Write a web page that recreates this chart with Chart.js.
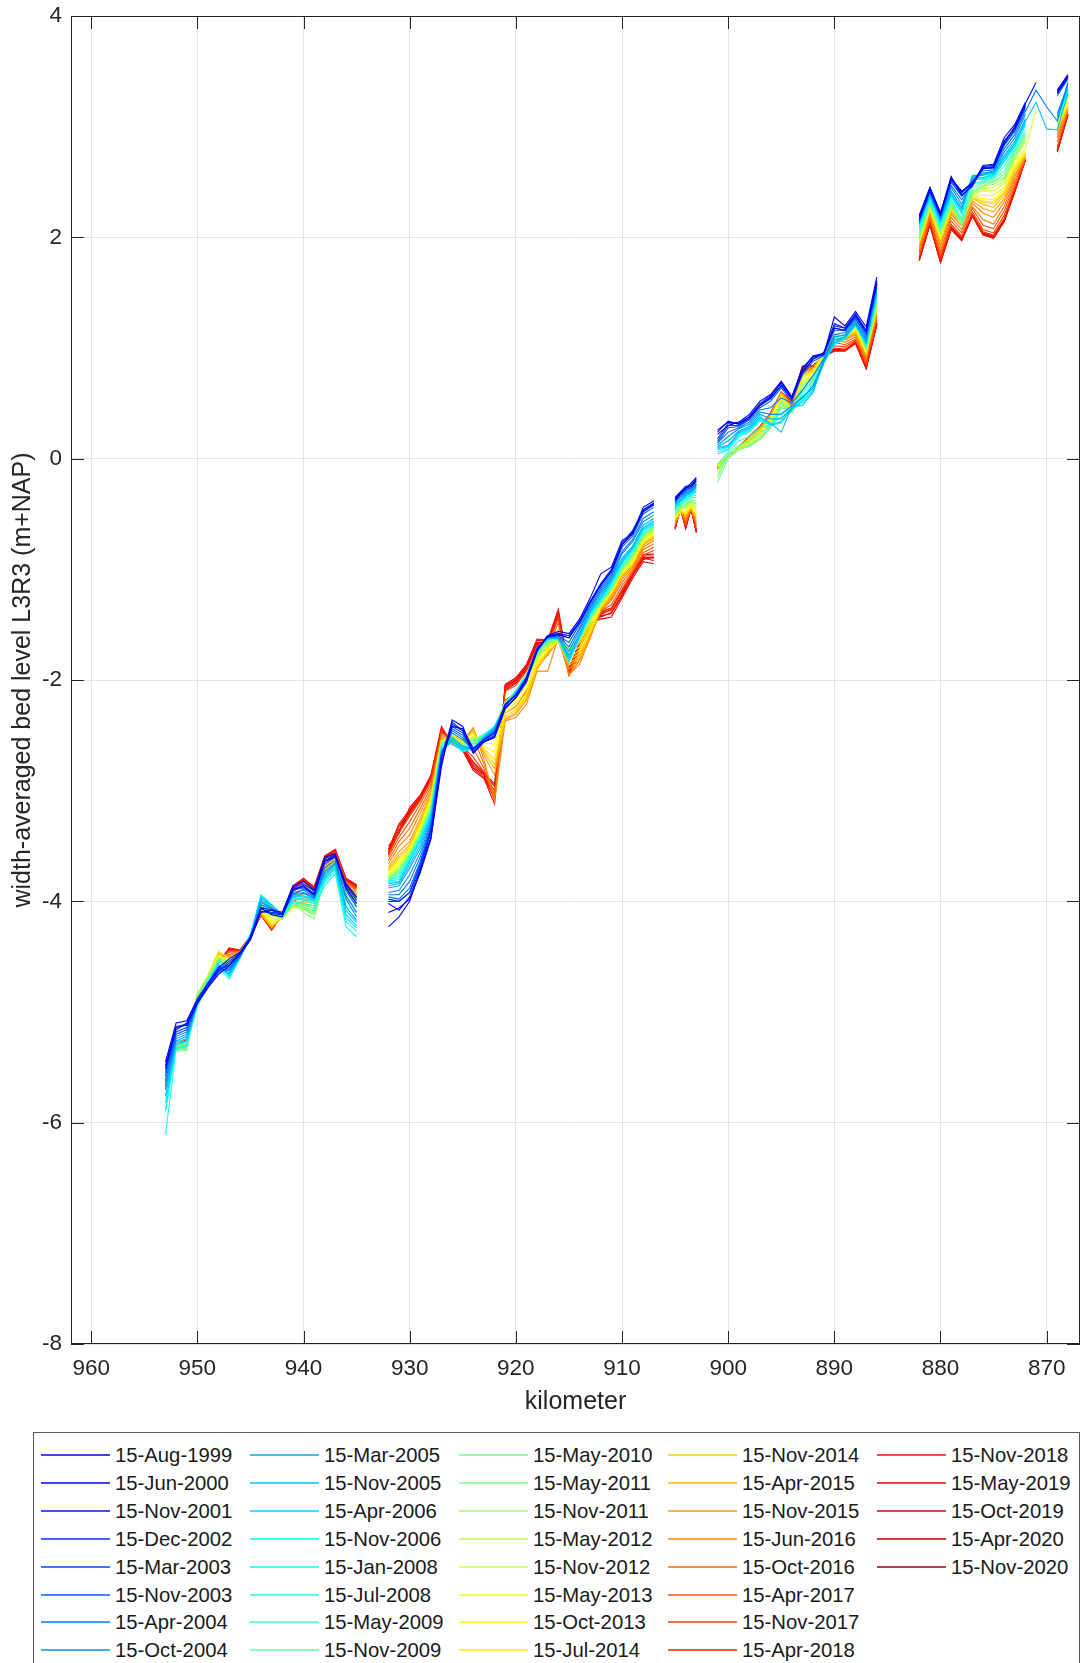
<!DOCTYPE html>
<html><head><meta charset="utf-8">
<script src="https://cdn.jsdelivr.net/npm/chart.js@4.4.1/dist/chart.umd.min.js"></script>
<style>
html,body{margin:0;padding:0;background:#fff;}
#wrap{position:relative;width:1086px;height:1663px;overflow:hidden;font-family:"Liberation Sans",Arial,Helvetica,sans-serif;}
#c{position:absolute;left:0;top:0;}
#legend{position:absolute;left:33px;top:1432px;width:1047px;height:260px;border:1px solid #5a5a5a;box-sizing:border-box;background:#fff;}
.ll{position:absolute;height:2px;width:69px;opacity:0.75;}
.lt{position:absolute;font-size:20.3px;color:#1a1a1a;line-height:24px;white-space:nowrap;}
</style></head><body><div id="wrap"><canvas id="c" width="1086" height="1420"></canvas><div id="legend"></div></div>
<script>
const kilometers = [953,952,951,950,949,948,947,946,945,944,943,942,941,940,939,938,937,936,935,
 933.5,
 932,931,930,929,928,927,926,925,924,923,922,921,920,919,918,917,916,915,914,913,912,911,910,909,908,907,
 906,
 905,904.5,904,903.5,903,
 902,
 901,900,899,898,897,896,895,894,893,892,891,890,889,888,887,886,
 884,
 882,881,880,879,878,877,876,875,874,873,872,871,870,869,868];

const dateLabels = ["15-Aug-1999","15-Jun-2000","15-Nov-2001","15-Dec-2002","15-Mar-2003","15-Nov-2003","15-Apr-2004","15-Oct-2004",
 "15-Mar-2005","15-Nov-2005","15-Apr-2006","15-Nov-2006","15-Jan-2008","15-Jul-2008","15-May-2009","15-Nov-2009",
 "15-May-2010","15-May-2011","15-Nov-2011","15-May-2012","15-Nov-2012","15-May-2013","15-Oct-2013","15-Jul-2014",
 "15-Nov-2014","15-Apr-2015","15-Nov-2015","15-Jun-2016","15-Oct-2016","15-Apr-2017","15-Nov-2017","15-Apr-2018",
 "15-Nov-2018","15-May-2019","15-Oct-2019","15-Apr-2020","15-Nov-2020"];

const xTickValues = [960,950,940,930,920,910,900,890,880,870];
const yTickValues = [-8,-6,-4,-2,0,2,4];

const s00 = [-5.50,-5.14,-5.12,-4.92,-4.78,-4.66,-4.58,-4.48,-4.35,-4.10,-4.08,-4.10,-3.86,-3.82,-3.90,-3.60,-3.57,-3.88,-4.02, null,
 -4.23,-4.14,-4.00,-3.72,-3.42,-2.78,-2.36,-2.42,-2.66,-2.56,-2.52,-2.26,-2.16,-2.00,-1.74,-1.60,-1.56,-1.58,-1.45,-1.26,-1.04,-0.98,-0.74,-0.68,-0.44,-0.38, null,
 -0.38,-0.32,-0.27,-0.22,-0.17, null,
 0.22,0.30,0.33,0.40,0.52,0.58,0.70,0.56,0.82,0.92,0.94,1.28,1.20,1.33,1.19,1.64, null,
 2.20,2.45,2.22,2.55,2.38,2.47,2.65,2.66,2.90,3.02,3.22,null,null,3.33,3.47];
const s01 = [-5.45,-5.10,-5.08,-4.88,-4.74,-4.60,-4.52,-4.46,-4.32,-4.06,-4.12,-4.14,-3.90,-3.86,-3.94,-3.63,-3.59,-3.84,-3.96, null,
 -4.10,-4.06,-3.98,-3.74,-3.44,-2.74,-2.42,-2.44,-2.62,-2.54,-2.48,-2.22,-2.14,-1.98,-1.72,-1.61,-1.59,-1.62,-1.48,-1.30,-1.14,-1.02,-0.78,-0.66,-0.48,-0.41, null,
 -0.36,-0.31,-0.27,-0.25,-0.20, null,
 0.24,0.34,0.31,0.37,0.48,0.55,0.66,0.54,0.78,0.90,0.96,1.18,1.16,1.30,1.14,1.58, null,
 2.16,2.42,2.20,2.52,2.41,2.50,2.62,2.63,2.85,3.00,3.21,3.40,null,3.30,3.45];
const s02 = [-5.52,-5.16,-5.10,-4.90,-4.76,-4.63,-4.56,-4.47,-4.34,-4.09,-4.11,-4.12,-3.89,-3.86,-3.93,-3.64,-3.60,-3.86,-3.99, null,
 -4.02,-4.08,-3.96,-3.70,-3.38,-2.70,-2.40,-2.46,-2.66,-2.56,-2.51,-2.25,-2.16,-2.02,-1.74,-1.60,-1.58,-1.60,-1.47,-1.29,-1.13,-1.00,-0.78,-0.68,-0.47,-0.40, null,
 -0.35,-0.30,-0.25,-0.24,-0.19, null,
 0.26,0.33,0.32,0.38,0.49,0.56,0.69,0.56,0.80,0.93,0.95,1.22,1.18,1.31,1.16,1.61, null,
 2.18,2.44,2.21,2.53,2.42,2.48,2.63,2.64,2.87,2.98,3.19,null,null,3.32,3.46];
const s03 = [-5.48,-5.13,-5.11,-4.91,-4.74,-4.62,-4.54,-4.47,-4.33,-4.07,-4.10,-4.11,-3.88,-3.84,-3.91,-3.61,-3.58,-3.85,-3.97, null,
 -3.98,-4.00,-3.92,-3.68,-3.36,-2.68,-2.38,-2.46,-2.66,-2.55,-2.50,-2.23,-2.14,-2.00,-1.72,-1.60,-1.58,-1.60,-1.48,-1.29,-1.13,-1.01,-0.76,-0.65,-0.46,-0.40, null,
 -0.36,-0.30,-0.26,-0.24,-0.18, null,
 0.18,0.32,0.32,0.38,0.50,0.57,0.68,0.55,0.81,0.92,0.95,1.20,1.18,1.29,1.15,1.60, null,
 2.19,2.45,2.22,2.53,2.40,2.49,2.64,2.65,2.87,2.99,3.20,null,null,3.31,3.46];
const s04 = [-5.55,-5.18,-5.14,-4.90,-4.76,-4.62,-4.58,-4.48,-4.33,-4.06,-4.08,-4.12,-3.89,-3.87,-3.94,-3.64,-3.59,-3.88,-4.02, null,
 -4.00,-4.00,-3.92,-3.66,-3.34,-2.70,-2.42,-2.48,-2.64,-2.54,-2.48,-2.22,-2.14,-1.98,-1.72,-1.60,-1.59,-1.62,-1.48,-1.30,-1.15,-1.02,-0.78,-0.67,-0.48,-0.42, null,
 -0.37,-0.31,-0.28,-0.26,-0.20, null,
 0.16,0.30,0.30,0.36,0.48,0.54,0.66,0.54,0.78,0.90,0.94,1.18,1.16,1.28,1.14,1.58, null,
 2.16,2.42,2.20,2.50,2.38,2.46,2.62,2.63,2.84,2.97,3.18,null,null,3.30,3.44];
const s05 = [-5.58,-5.20,-5.16,-4.92,-4.78,-4.64,-4.60,-4.50,-4.34,-4.05,-4.08,-4.12,-3.90,-3.88,-3.95,-3.66,-3.60,-3.90,-4.05, null,
 -3.96,-3.98,-3.88,-3.64,-3.32,-2.68,-2.44,-2.50,-2.66,-2.54,-2.47,-2.22,-2.13,-1.98,-1.72,-1.61,-1.60,-1.66,-1.50,-1.32,-1.17,-1.04,-0.80,-0.70,-0.50,-0.44, null,
 -0.38,-0.33,-0.29,-0.27,-0.22, null,
 0.14,0.28,0.29,0.35,0.46,0.52,0.64,0.52,0.76,0.88,0.93,1.16,1.16,1.27,1.12,1.57, null,
 2.15,2.42,2.19,2.50,2.37,2.48,2.62,2.63,2.83,2.96,3.16,null,null,3.28,3.43];
const s06 = [-5.62,-5.22,-5.18,-4.92,-4.76,-4.62,-4.62,-4.50,-4.33,-4.03,-4.07,-4.12,-3.92,-3.90,-3.96,-3.70,-3.63,-3.95,-4.10, null,
 -3.94,-3.94,-3.82,-3.60,-3.30,-2.66,-2.46,-2.52,-2.64,-2.53,-2.46,-2.23,-2.13,-1.98,-1.72,-1.61,-1.60,-1.70,-1.53,-1.34,-1.19,-1.06,-0.84,-0.73,-0.54,-0.48, null,
 -0.39,-0.34,-0.30,-0.28,-0.23, null,
 0.14,0.24,0.28,0.33,0.44,0.46,0.55,0.50,0.62,0.75,0.90,1.12,1.14,1.26,1.10,1.55, null,
 2.15,2.40,2.18,2.47,2.34,2.50,2.60,2.61,2.80,2.93,3.14,3.33,3.18,3.05,3.40];
const s07 = [-5.66,-5.24,-5.20,-4.92,-4.75,-4.60,-4.63,-4.50,-4.32,-4.01,-4.06,-4.12,-3.93,-3.92,-3.97,-3.73,-3.65,-3.98,-4.14, null,
 -3.92,-3.90,-3.76,-3.56,-3.28,-2.66,-2.48,-2.54,-2.63,-2.53,-2.45,-2.23,-2.13,-1.98,-1.72,-1.62,-1.61,-1.74,-1.55,-1.35,-1.21,-1.08,-0.86,-0.75,-0.57,-0.51, null,
 -0.40,-0.35,-0.31,-0.29,-0.24, null,
 0.12,0.20,0.27,0.31,0.42,0.40,0.40,0.48,0.55,0.66,0.88,1.10,1.12,1.24,1.08,1.54, null,
 2.14,2.40,2.17,2.45,2.30,2.52,2.58,2.60,2.77,2.90,3.11,null,null,3.12,3.38];
const s08 = [-5.70,-5.26,-5.22,-4.92,-4.75,-4.59,-4.65,-4.50,-4.32,-3.99,-4.06,-4.12,-3.94,-3.93,-3.97,-3.75,-3.66,-4.05,-4.17, null,
 -3.88,-3.86,-3.70,-3.52,-3.26,-2.65,-2.52,-2.60,-2.62,-2.52,-2.44,-2.24,-2.12,-1.98,-1.72,-1.62,-1.62,-1.78,-1.58,-1.37,-1.23,-1.09,-0.90,-0.79,-0.60,-0.54, null,
 -0.41,-0.37,-0.32,-0.30,-0.25, null,
 0.11,0.16,0.25,0.29,0.40,0.36,0.36,0.46,0.56,0.64,0.87,1.07,1.10,1.22,1.06,1.52, null,
 2.13,2.39,2.16,2.42,2.27,2.54,2.57,2.59,2.74,2.87,3.07,null,null,3.10,3.36];
const s09 = [-5.76,-5.27,-5.24,-4.93,-4.74,-4.58,-4.66,-4.50,-4.32,-3.97,-4.04,-4.12,-3.95,-3.95,-3.98,-3.77,-3.67,-4.08,-4.19, null,
 -3.86,-3.84,-3.67,-3.49,-3.24,-2.64,-2.54,-2.62,-2.62,-2.52,-2.43,-2.24,-2.12,-1.98,-1.72,-1.62,-1.62,-1.80,-1.60,-1.38,-1.25,-1.10,-0.92,-0.80,-0.62,-0.56, null,
 -0.42,-0.38,-0.33,-0.30,-0.26, null,
 0.10,0.12,0.24,0.28,0.38,0.32,0.24,0.47,0.48,0.60,0.90,1.05,1.10,1.22,1.05,1.50, null,
 2.12,2.38,2.15,2.40,2.25,2.56,2.56,2.58,2.72,2.85,3.05,3.22,2.98,2.97,3.30];
const s10 = [-5.82,-5.29,-5.26,-4.92,-4.73,-4.57,-4.67,-4.50,-4.31,-3.96,-4.04,-4.12,-3.96,-3.96,-3.99,-3.79,-3.69,-4.12,-4.22, null,
 -3.84,-3.83,-3.64,-3.46,-3.22,-2.63,-2.56,-2.63,-2.62,-2.51,-2.43,-2.24,-2.11,-1.97,-1.72,-1.62,-1.62,-1.82,-1.61,-1.39,-1.26,-1.11,-0.93,-0.81,-0.63,-0.57, null,
 -0.43,-0.38,-0.34,-0.31,-0.27, null,
 0.09,0.11,0.23,0.27,0.37,0.31,0.33,0.44,0.52,0.62,0.86,1.04,1.09,1.21,1.04,1.49, null,
 2.11,2.37,2.14,2.39,2.24,2.55,2.54,2.57,2.71,2.84,3.04,null,null,3.09,3.34];
const s11 = [-5.88,-5.30,-5.27,-4.93,-4.74,-4.58,-4.68,-4.51,-4.31,-3.95,-4.03,-4.12,-3.97,-3.98,-4.00,-3.80,-3.70,-4.15,-4.24, null,
 -3.83,-3.82,-3.63,-3.45,-3.21,-2.62,-2.56,-2.64,-2.62,-2.51,-2.42,-2.24,-2.11,-1.97,-1.72,-1.62,-1.63,-1.83,-1.62,-1.40,-1.27,-1.12,-0.94,-0.82,-0.64,-0.58, null,
 -0.44,-0.39,-0.35,-0.32,-0.28, null,
 0.08,0.10,0.22,0.26,0.36,0.30,0.34,0.45,0.52,0.62,0.87,1.04,1.09,1.21,1.04,1.49, null,
 2.10,2.36,2.13,2.38,2.23,2.54,2.53,2.56,2.70,2.83,3.03,null,null,3.08,3.33];
const s12 = [-6.11,-5.33,-5.30,-4.95,-4.76,-4.60,-4.70,-4.52,-4.32,-3.94,-4.03,-4.14,-4.00,-4.02,-4.04,-3.86,-3.75,-4.23,-4.32, null,
 -3.82,-3.80,-3.62,-3.44,-3.20,-2.62,-2.57,-2.65,-2.62,-2.50,-2.42,-2.24,-2.10,-1.97,-1.72,-1.63,-1.63,-1.84,-1.62,-1.41,-1.28,-1.13,-0.95,-0.83,-0.65,-0.59, null,
 -0.45,-0.40,-0.36,-0.33,-0.29, null,
 0.06,0.09,0.21,0.25,0.35,0.30,0.32,0.46,0.50,0.60,0.86,1.03,1.08,1.20,1.03,1.48, null,
 2.09,2.35,2.12,2.37,2.22,2.53,2.52,2.55,2.69,2.82,3.02,null,null,3.07,3.32];
const s13 = [-5.90,-5.31,-5.29,-4.92,-4.74,-4.57,-4.67,-4.50,-4.31,-3.95,-4.04,-4.13,-3.98,-3.99,-4.02,-3.83,-3.72,-4.18,-4.27, null,
 -3.81,-3.78,-3.61,-3.43,-3.19,-2.61,-2.56,-2.64,-2.61,-2.50,-2.42,-2.23,-2.10,-1.96,-1.73,-1.63,-1.63,-1.82,-1.62,-1.41,-1.28,-1.13,-0.95,-0.83,-0.65,-0.59, null,
 -0.45,-0.40,-0.36,-0.33,-0.30, null,
 0.04,0.08,0.20,0.24,0.34,0.30,0.38,0.44,0.54,0.64,0.88,1.04,1.09,1.21,1.03,1.48, null,
 2.08,2.34,2.11,2.36,2.21,2.52,2.53,2.55,2.68,2.81,3.01,null,null,3.07,3.33];
const s14 = [-5.75,-5.32,-5.31,-4.89,-4.72,-4.55,-4.62,-4.49,-4.30,-3.96,-4.06,-4.14,-4.00,-4.03,-4.06,-3.81,-3.70,-4.04,-4.10, null,
 -3.82,-3.76,-3.60,-3.42,-3.18,-2.60,-2.54,-2.62,-2.58,-2.50,-2.43,-2.22,-2.11,-1.96,-1.75,-1.64,-1.63,-1.76,-1.62,-1.42,-1.28,-1.15,-0.97,-0.85,-0.67,-0.60, null,
 -0.46,-0.41,-0.38,-0.34,-0.33, null,
 -0.05,0.06,0.16,0.20,0.28,0.30,0.42,0.44,0.58,0.68,0.89,1.07,1.10,1.23,1.02,1.45, null,
 2.06,2.33,2.09,2.34,2.17,2.48,2.51,2.54,2.64,2.79,2.97,null,null,3.06,3.32];
const s15 = [-5.70,-5.33,-5.32,-4.87,-4.71,-4.54,-4.60,-4.48,-4.30,-3.97,-4.08,-4.15,-4.01,-4.05,-4.09,-3.80,-3.70,-3.99,-4.05, null,
 -3.81,-3.74,-3.59,-3.41,-3.17,-2.59,-2.53,-2.61,-2.57,-2.50,-2.43,-2.21,-2.10,-1.95,-1.76,-1.65,-1.63,-1.74,-1.62,-1.43,-1.29,-1.16,-0.98,-0.86,-0.68,-0.61, null,
 -0.47,-0.42,-0.39,-0.35,-0.35, null,
 -0.10,0.04,0.12,0.16,0.24,0.29,0.46,0.43,0.60,0.70,0.90,1.08,1.11,1.24,1.01,1.43, null,
 2.04,2.32,2.08,2.33,2.15,2.45,2.50,2.53,2.60,2.78,2.94,null,null,3.06,3.31];
const s16 = [-5.66,-5.34,-5.34,-4.86,-4.70,-4.53,-4.59,-4.48,-4.30,-3.98,-4.08,-4.15,-4.02,-4.07,-4.11,-3.80,-3.70,-3.97,-4.02, null,
 -3.80,-3.73,-3.58,-3.40,-3.16,-2.58,-2.52,-2.60,-2.56,-2.49,-2.42,-2.20,-2.10,-1.95,-1.77,-1.65,-1.63,-1.72,-1.62,-1.44,-1.30,-1.17,-0.99,-0.87,-0.69,-0.62, null,
 -0.49,-0.43,-0.41,-0.37,-0.38, null,
 -0.21,0.00,0.08,0.12,0.19,0.28,0.48,0.42,0.62,0.71,0.90,1.09,1.12,1.25,1.00,1.41, null,
 2.02,2.31,2.06,2.31,2.13,2.42,2.49,2.51,2.57,2.76,2.92,null,null,3.05,3.30];
const s17 = [-5.62,-5.35,-5.35,-4.85,-4.69,-4.52,-4.58,-4.48,-4.30,-4.00,-4.10,-4.15,-4.03,-4.10,-4.16,-3.80,-3.70,-3.94,-3.99, null,
 -3.79,-3.72,-3.57,-3.39,-3.15,-2.57,-2.52,-2.60,-2.54,-2.49,-2.43,-2.20,-2.10,-1.95,-1.78,-1.66,-1.63,-1.70,-1.62,-1.45,-1.30,-1.18,-1.00,-0.88,-0.70,-0.62, null,
 -0.50,-0.44,-0.42,-0.38,-0.40, null,
 -0.17,0.03,0.08,0.11,0.17,0.28,0.50,0.42,0.66,0.72,0.90,1.10,1.12,1.26,0.99,1.40, null,
 2.00,2.30,2.04,2.30,2.10,2.40,2.47,2.50,2.54,2.74,2.90,null,null,3.04,3.30];
const s18 = [-5.60,-5.33,-5.33,-4.84,-4.70,-4.51,-4.57,-4.48,-4.30,-4.01,-4.11,-4.16,-4.02,-4.08,-4.12,-3.79,-3.70,-3.95,-4.00, null,
 -3.79,-3.71,-3.57,-3.39,-3.14,-2.57,-2.52,-2.59,-2.54,-2.50,-2.44,-2.20,-2.11,-1.96,-1.79,-1.67,-1.64,-1.70,-1.63,-1.45,-1.31,-1.18,-1.01,-0.89,-0.71,-0.63, null,
 -0.50,-0.45,-0.43,-0.39,-0.41, null,
 -0.15,0.03,0.09,0.12,0.18,0.29,0.51,0.43,0.66,0.73,0.91,1.10,1.12,1.25,0.99,1.40, null,
 1.99,2.29,2.04,2.29,2.11,2.39,2.46,2.48,2.53,2.73,2.88,null,null,3.04,3.29];
const s19 = [-5.58,-5.32,-5.32,-4.84,-4.69,-4.50,-4.56,-4.47,-4.31,-4.03,-4.13,-4.16,-4.03,-4.06,-4.10,-3.78,-3.68,-3.93,-3.99, null,
 -3.78,-3.70,-3.56,-3.38,-3.13,-2.56,-2.52,-2.59,-2.53,-2.52,-2.48,-2.21,-2.12,-1.98,-1.80,-1.68,-1.64,-1.72,-1.65,-1.47,-1.31,-1.19,-1.01,-0.90,-0.72,-0.64, null,
 -0.51,-0.45,-0.44,-0.40,-0.43, null,
 -0.12,0.02,0.09,0.13,0.19,0.30,0.52,0.43,0.68,0.74,0.92,1.10,1.11,1.23,0.98,1.39, null,
 1.98,2.28,2.03,2.28,2.12,2.38,2.44,2.45,2.51,2.71,2.86,null,null,3.03,3.28];
const s20 = [-5.60,-5.31,-5.31,-4.84,-4.68,-4.50,-4.55,-4.47,-4.31,-4.05,-4.15,-4.15,-4.04,-4.05,-4.08,-3.77,-3.67,-3.92,-3.98, null,
 -3.77,-3.68,-3.55,-3.36,-3.12,-2.56,-2.52,-2.58,-2.52,-2.54,-2.52,-2.22,-2.14,-2.00,-1.81,-1.69,-1.64,-1.74,-1.67,-1.49,-1.32,-1.19,-1.02,-0.91,-0.73,-0.65, null,
 -0.52,-0.46,-0.45,-0.41,-0.45, null,
 -0.10,0.02,0.09,0.14,0.21,0.32,0.53,0.43,0.70,0.75,0.93,1.11,1.11,1.22,0.98,1.38, null,
 1.97,2.28,2.02,2.27,2.13,2.38,2.42,2.42,2.49,2.70,2.80,3.15,null,3.02,3.27];
const s21 = [-5.60,-5.31,-5.30,-4.85,-4.68,-4.49,-4.54,-4.47,-4.31,-4.07,-4.17,-4.15,-4.04,-4.04,-4.06,-3.75,-3.65,-3.91,-3.97, null,
 -3.76,-3.66,-3.54,-3.34,-3.10,-2.55,-2.52,-2.57,-2.51,-2.57,-2.58,-2.25,-2.17,-2.04,-1.83,-1.71,-1.64,-1.77,-1.70,-1.51,-1.32,-1.20,-1.02,-0.92,-0.74,-0.66, null,
 -0.53,-0.46,-0.46,-0.42,-0.47, null,
 -0.08,0.02,0.09,0.15,0.22,0.34,0.55,0.44,0.71,0.77,0.93,1.11,1.11,1.20,0.97,1.37, null,
 1.96,2.27,2.01,2.26,2.14,2.37,2.38,2.38,2.45,2.67,2.78,null,null,3.01,3.25];
const s22 = [-5.61,-5.31,-5.29,-4.85,-4.68,-4.49,-4.53,-4.47,-4.32,-4.08,-4.19,-4.15,-4.05,-4.03,-4.04,-3.74,-3.64,-3.90,-3.96, null,
 -3.75,-3.64,-3.53,-3.32,-3.08,-2.55,-2.52,-2.56,-2.51,-2.60,-2.65,-2.28,-2.20,-2.08,-1.85,-1.73,-1.65,-1.80,-1.73,-1.54,-1.33,-1.21,-1.03,-0.93,-0.75,-0.68, null,
 -0.54,-0.47,-0.48,-0.43,-0.49, null,
 -0.07,0.02,0.10,0.16,0.24,0.36,0.56,0.44,0.73,0.78,0.94,1.12,1.11,1.18,0.96,1.36, null,
 1.96,2.26,2.00,2.26,2.15,2.37,2.35,2.34,2.43,2.65,2.77,null,null,3.00,3.22];
const s23 = [-5.58,-5.30,-5.28,-4.84,-4.67,-4.45,-4.52,-4.47,-4.32,-4.09,-4.21,-4.15,-4.06,-4.04,-4.02,-3.73,-3.63,-3.89,-3.95, null,
 -3.73,-3.62,-3.52,-3.31,-3.07,-2.55,-2.50,-2.54,-2.48,-2.62,-2.72,-2.30,-2.25,-2.12,-1.86,-1.73,-1.65,-1.82,-1.76,-1.56,-1.34,-1.21,-1.04,-0.94,-0.75,-0.69, null,
 -0.54,-0.47,-0.49,-0.43,-0.51, null,
 -0.06,0.02,0.10,0.17,0.25,0.37,0.57,0.45,0.74,0.79,0.95,1.13,1.10,1.16,0.96,1.36, null,
 1.96,2.25,1.99,2.25,2.15,2.36,2.33,2.32,2.41,2.63,2.76,null,null,2.99,3.19];
const s24 = [-5.59,-5.29,-5.27,-4.84,-4.67,-4.46,-4.51,-4.46,-4.32,-4.10,-4.22,-4.15,-4.05,-4.02,-4.00,-3.72,-3.62,-3.88,-3.94, null,
 -3.72,-3.60,-3.51,-3.30,-3.06,-2.55,-2.51,-2.55,-2.47,-2.64,-2.76,-2.33,-2.27,-2.14,-1.88,-1.74,-1.65,-1.85,-1.78,-1.58,-1.35,-1.22,-1.05,-0.95,-0.76,-0.70, null,
 -0.55,-0.48,-0.50,-0.44,-0.52, null,
 -0.05,0.02,0.10,0.18,0.26,0.38,0.58,0.45,0.75,0.80,0.95,1.12,1.10,1.15,0.95,1.35, null,
 1.95,2.25,1.98,2.25,2.15,2.36,2.32,2.30,2.40,2.62,2.75,null,null,2.98,3.18];
const s25 = [-5.60,-5.29,-5.27,-4.85,-4.68,-4.47,-4.51,-4.46,-4.33,-4.11,-4.23,-4.15,-4.04,-4.01,-3.99,-3.71,-3.61,-3.87,-3.94, null,
 -3.71,-3.58,-3.49,-3.28,-3.04,-2.54,-2.52,-2.56,-2.46,-2.66,-2.80,-2.35,-2.29,-2.16,-1.89,-1.75,-1.65,-1.87,-1.80,-1.59,-1.36,-1.23,-1.06,-0.96,-0.77,-0.71, null,
 -0.56,-0.48,-0.51,-0.45,-0.53, null,
 -0.05,0.02,0.10,0.19,0.27,0.39,0.59,0.46,0.76,0.81,0.95,1.12,1.09,1.14,0.94,1.34, null,
 1.94,2.24,1.97,2.24,2.14,2.35,2.30,2.27,2.38,2.60,2.74,null,null,2.97,3.17];
const s26 = [-5.61,-5.30,-5.27,-4.85,-4.68,-4.48,-4.50,-4.46,-4.33,-4.11,-4.23,-4.14,-4.03,-4.00,-3.98,-3.70,-3.60,-3.86,-3.93, null,
 -3.69,-3.55,-3.46,-3.25,-3.02,-2.53,-2.53,-2.56,-2.44,-2.68,-2.86,-2.36,-2.31,-2.18,-1.90,-1.77,-1.65,-1.90,-1.82,-1.60,-1.36,-1.24,-1.07,-0.97,-0.78,-0.72, null,
 -0.57,-0.48,-0.52,-0.45,-0.55, null,
 -0.05,0.02,0.10,0.19,0.27,0.39,0.59,0.47,0.77,0.81,0.95,1.11,1.08,1.13,0.93,1.33, null,
 1.92,2.23,1.95,2.23,2.12,2.33,2.26,2.23,2.35,2.57,2.73,null,null,2.95,3.16];
const s27 = [-5.62,-5.30,-5.27,-4.85,-4.69,-4.50,-4.49,-4.46,-4.33,-4.12,-4.24,-4.14,-4.00,-3.97,-3.96,-3.68,-3.59,-3.85,-3.92, null,
 -3.66,-3.50,-3.40,-3.20,-3.00,-2.52,-2.54,-2.55,-2.43,-2.72,-3.10,-2.37,-2.34,-2.22,-1.92,-1.92,-1.62,-1.95,-1.86,-1.62,-1.37,-1.26,-1.09,-0.98,-0.80,-0.74, null,
 -0.58,-0.48,-0.54,-0.46,-0.57, null,
 -0.06,0.02,0.10,0.19,0.28,0.40,0.60,0.48,0.78,0.82,0.94,1.10,1.07,1.12,0.92,1.31, null,
 1.90,2.21,1.92,2.21,2.10,2.31,2.22,2.18,2.32,2.55,2.72,null,null,2.93,3.15];
const s28 = [-5.63,-5.30,-5.27,-4.85,-4.69,-4.51,-4.48,-4.45,-4.33,-4.12,-4.24,-4.13,-3.97,-3.93,-3.94,-3.66,-3.58,-3.84,-3.90, null,
 -3.63,-3.46,-3.34,-3.16,-2.97,-2.50,-2.54,-2.57,-2.52,-2.76,-3.04,-2.30,-2.24,-2.10,-1.84,-1.78,-1.55,-1.96,-1.82,-1.60,-1.38,-1.28,-1.12,-1.00,-0.82,-0.77, null,
 -0.59,-0.47,-0.56,-0.45,-0.59, null,
 -0.06,0.02,0.10,0.19,0.28,0.40,0.60,0.49,0.79,0.82,0.94,1.08,1.05,1.10,0.90,1.29, null,
 1.88,2.19,1.88,2.18,2.07,2.28,2.16,2.12,2.28,2.52,2.71,null,null,2.90,3.14];
const s29 = [-5.64,-5.30,-5.26,-4.85,-4.70,-4.52,-4.46,-4.45,-4.32,-4.12,-4.24,-4.13,-3.94,-3.89,-3.92,-3.64,-3.57,-3.83,-3.89, null,
 -3.60,-3.42,-3.28,-3.12,-2.94,-2.48,-2.54,-2.59,-2.62,-2.80,-3.06,-2.18,-2.12,-1.98,-1.76,-1.72,-1.48,-1.96,-1.76,-1.56,-1.38,-1.32,-1.15,-1.02,-0.85,-0.80, null,
 -0.60,-0.47,-0.58,-0.45,-0.61, null,
 -0.07,0.02,0.10,0.19,0.28,0.40,0.60,0.50,0.80,0.83,0.93,1.05,1.03,1.08,0.88,1.27, null,
 1.86,2.17,1.85,2.15,2.04,2.26,2.11,2.08,2.24,2.49,2.71,null,null,2.86,3.13];
const s30 = [-5.65,-5.30,-5.26,-4.85,-4.70,-4.53,-4.45,-4.45,-4.32,-4.12,-4.25,-4.12,-3.91,-3.85,-3.90,-3.62,-3.56,-3.82,-3.88, null,
 -3.58,-3.38,-3.23,-3.09,-2.91,-2.46,-2.55,-2.60,-2.70,-2.83,-3.08,-2.10,-2.05,-1.92,-1.70,-1.68,-1.44,-1.95,-1.72,-1.53,-1.38,-1.35,-1.18,-1.03,-0.87,-0.83, null,
 -0.61,-0.46,-0.60,-0.45,-0.63, null,
 -0.07,0.02,0.10,0.20,0.29,0.41,0.60,0.51,0.81,0.84,0.93,1.02,1.01,1.07,0.86,1.25, null,
 1.83,2.15,1.82,2.12,2.01,2.23,2.07,2.04,2.20,2.46,2.70,null,null,2.82,3.12];
const s31 = [-5.66,-5.31,-5.26,-4.85,-4.70,-4.54,-4.44,-4.45,-4.32,-4.12,-4.25,-4.12,-3.89,-3.82,-3.89,-3.61,-3.55,-3.81,-3.87, null,
 -3.57,-3.36,-3.20,-3.07,-2.89,-2.46,-2.54,-2.61,-2.74,-2.84,-3.00,-2.08,-2.02,-1.90,-1.68,-1.67,-1.42,-1.94,-1.69,-1.51,-1.40,-1.37,-1.20,-1.04,-0.88,-0.88, null,
 -0.62,-0.46,-0.61,-0.46,-0.65, null,
 -0.08,0.02,0.10,0.20,0.29,0.41,0.60,0.52,0.82,0.84,0.92,1.00,0.99,1.06,0.84,1.23, null,
 1.82,2.13,1.80,2.10,2.00,2.21,2.05,2.02,2.17,2.44,2.70,null,null,2.80,3.11];
const s32 = [-5.68,-5.30,-5.25,-4.85,-4.70,-4.55,-4.43,-4.45,-4.32,-4.12,-4.26,-4.12,-3.87,-3.80,-3.88,-3.60,-3.54,-3.80,-3.86, null,
 -3.53,-3.30,-3.17,-3.05,-2.87,-2.43,-2.57,-2.63,-2.80,-2.88,-3.06,-2.05,-1.99,-1.87,-1.64,-1.65,-1.38,-1.90,-1.66,-1.49,-1.42,-1.40,-1.24,-1.06,-0.90,-0.92, null,
 -0.63,-0.45,-0.62,-0.45,-0.66, null,
 -0.08,0.02,0.10,0.20,0.29,0.41,0.60,0.52,0.83,0.84,0.92,0.98,0.98,1.05,0.82,1.22, null,
 1.80,2.12,1.78,2.08,1.98,2.20,2.03,2.00,2.15,2.42,2.70,null,null,2.78,3.11];
const s33 = [-5.70,-5.29,-5.25,-4.86,-4.71,-4.56,-4.42,-4.44,-4.31,-4.13,-4.26,-4.11,-3.86,-3.79,-3.87,-3.59,-3.53,-3.79,-3.85, null,
 -3.50,-3.39,-3.15,-3.04,-2.86,-2.42,-2.58,-2.64,-2.82,-2.89,-3.12,-2.04,-1.98,-1.86,-1.63,-1.64,-1.36,-1.93,-1.65,-1.48,-1.45,-1.43,-1.26,-1.08,-0.93,-0.95, null,
 -0.64,-0.44,-0.63,-0.44,-0.67, null,
 -0.09,0.02,0.10,0.20,0.29,0.41,0.60,0.53,0.84,0.84,0.92,0.97,0.97,1.04,0.81,1.21, null,
 1.79,2.11,1.77,2.07,1.97,2.19,2.02,1.99,2.14,2.41,2.70,null,null,2.77,3.10];
const s34 = [-5.70,-5.30,-5.26,-4.85,-4.70,-4.55,-4.43,-4.45,-4.32,-4.12,-4.25,-4.12,-3.87,-3.80,-3.88,-3.60,-3.54,-3.80,-3.86, null,
 -3.54,-3.32,-3.19,-3.06,-2.88,-2.45,-2.55,-2.62,-2.77,-2.85,-2.96,-2.06,-2.00,-1.88,-1.66,-1.66,-1.40,-1.91,-1.67,-1.50,-1.41,-1.36,-1.21,-1.05,-0.89,-0.90, null,
 -0.63,-0.45,-0.63,-0.45,-0.66, null,
 -0.08,0.02,0.10,0.20,0.29,0.41,0.60,0.52,0.83,0.84,0.92,0.98,0.98,1.05,0.82,1.22, null,
 1.79,2.12,1.78,2.08,1.98,2.20,2.03,2.00,2.15,2.42,2.70,null,null,2.78,3.11];
const s35 = [-5.69,-5.30,-5.26,-4.85,-4.70,-4.55,-4.44,-4.45,-4.32,-4.12,-4.25,-4.12,-3.88,-3.81,-3.88,-3.60,-3.54,-3.80,-3.86, null,
 -3.56,-3.35,-3.18,-3.06,-2.88,-2.46,-2.56,-2.62,-2.79,-2.86,-3.08,-2.07,-2.01,-1.89,-1.67,-1.66,-1.41,-1.92,-1.68,-1.50,-1.43,-1.39,-1.23,-1.05,-0.91,-0.89, null,
 -0.63,-0.45,-0.62,-0.45,-0.66, null,
 -0.08,0.02,0.10,0.20,0.29,0.41,0.60,0.52,0.83,0.84,0.92,0.98,0.98,1.05,0.82,1.22, null,
 1.80,2.12,1.78,2.08,1.98,2.20,2.03,2.00,2.15,2.42,2.70,null,null,2.78,3.11];
const s36 = [-5.67,-5.31,-5.27,-4.85,-4.70,-4.54,-4.44,-4.45,-4.32,-4.11,-4.24,-4.12,-3.88,-3.82,-3.89,-3.61,-3.55,-3.81,-3.87, null,
 -3.58,-3.37,-3.21,-3.08,-2.90,-2.47,-2.54,-2.60,-2.75,-2.84,-2.94,-2.09,-2.03,-1.91,-1.69,-1.67,-1.44,-1.89,-1.69,-1.52,-1.39,-1.35,-1.19,-1.03,-0.87,-0.86, null,
 -0.62,-0.45,-0.62,-0.45,-0.65, null,
 -0.08,0.02,0.10,0.20,0.29,0.41,0.60,0.52,0.82,0.84,0.92,0.99,0.98,1.05,0.83,1.22, null,
 1.81,2.12,1.79,2.09,1.99,2.20,2.04,2.01,2.16,2.43,2.70,null,null,2.79,3.11];

const seriesValues = [s00,s01,s02,s03,s04,s05,s06,s07,s08,s09,s10,s11,s12,s13,s14,s15,s16,s17,s18,s19,
 s20,s21,s22,s23,s24,s25,s26,s27,s28,s29,s30,s31,s32,s33,s34,s35,s36];

function seriesColor(i){
  const t = 0.1 + 0.86*i/(seriesValues.length-1);
  const c = v => Math.round(255*Math.min(1,Math.max(0,v)));
  return 'rgb('+c(1.5-Math.abs(4*t-3))+','+c(1.5-Math.abs(4*t-2))+','+c(1.5-Math.abs(4*t-1))+')';
}

const FONT = "'Liberation Sans', Arial, Helvetica, sans-serif";
Chart.defaults.font.family = FONT;

const boxPlugin = {
  id: 'box',
  afterDatasetsDraw(chart){
    const {ctx, chartArea:a, scales:{x, y}} = chart;
    ctx.save();
    ctx.strokeStyle = '#262626';
    ctx.lineWidth = 1;
    ctx.beginPath();
    x.ticks.forEach(t => {
      const px = Math.round(x.getPixelForValue(t.value)) + 0.5;
      ctx.moveTo(px, a.bottom); ctx.lineTo(px, a.bottom - 13);
      ctx.moveTo(px, a.top); ctx.lineTo(px, a.top + 13);
    });
    y.ticks.forEach(t => {
      const py = Math.round(y.getPixelForValue(t.value)) + 0.5;
      ctx.moveTo(a.left, py); ctx.lineTo(a.left + 13, py);
      ctx.moveTo(a.right, py); ctx.lineTo(a.right - 13, py);
    });
    ctx.stroke();
    ctx.strokeRect(Math.round(a.left)+0.5, Math.round(a.top)+0.5, Math.round(a.right-a.left)-1, Math.round(a.bottom-a.top)-1);
    ctx.restore();
  }
};

const chart = new Chart(document.getElementById('c'), {
  type: 'line',
  data: {
    datasets: seriesValues.map((vals, i) => ({
      label: dateLabels[i],
      data: kilometers.map((k, j) => ({x: k, y: vals[j]})),
      borderColor: seriesColor(i),
      backgroundColor: seriesColor(i),
      borderWidth: 1.1,
      pointRadius: 0,
      pointHoverRadius: 0,
      fill: false,
      tension: 0,
      spanGaps: false
    }))
  },
  options: {
    responsive: false,
    animation: false,
    devicePixelRatio: 1,
    events: [],
    layout: {padding: {left: 0, right: 6, top: 16, bottom: 0}},
    plugins: {legend: {display: false}, tooltip: {enabled: false}},
    scales: {
      x: {
        type: 'linear', reverse: true, min: 866.86, max: 961.9,
        afterBuildTicks: s => { s.ticks = xTickValues.map(v => ({value: v})); },
        afterFit: s => { s.height = 76; s.paddingLeft = 0; s.paddingRight = 0; },
        ticks: {font: {size: 22.5}, color: '#262626', padding: 11, maxRotation: 0, autoSkip: false, callback: v => String(v)},
        grid: {color: '#e4e4e4', lineWidth: 1, drawTicks: false},
        border: {display: false},
        title: {display: true, text: 'kilometer', font: {size: 25}, color: '#262626', padding: {top: 0, bottom: 3}}
      },
      y: {
        type: 'linear', min: -8, max: 4,
        afterBuildTicks: s => { s.ticks = yTickValues.map(v => ({value: v})); },
        afterFit: s => { s.width = 71; s.paddingTop = 0; s.paddingBottom = 0; },
        ticks: {font: {size: 22.5}, color: '#262626', padding: 9, autoSkip: false, callback: v => String(v)},
        grid: {color: '#e4e4e4', lineWidth: 1, drawTicks: false},
        border: {display: false},
        title: {display: true, text: 'width-averaged bed level L3R3 (m+NAP)', font: {size: 25}, color: '#262626', padding: {top: 8, bottom: 0}}
      }
    }
  },
  plugins: [boxPlugin]
});

// HTML legend (column-major, 8 rows), built from the chart's datasets
const legendBox = document.getElementById('legend');
chart.data.datasets.forEach((ds, i) => {
  const col = Math.floor(i / 8), row = i % 8;
  const lineLeft = 7 + col * 209;
  const cy = 22 + row * 27.9;
  const ln = document.createElement('div');
  ln.className = 'll';
  ln.style.left = lineLeft + 'px';
  ln.style.top = Math.round(cy - 1) + 'px';
  ln.style.background = ds.borderColor;
  legendBox.appendChild(ln);
  const tx = document.createElement('div');
  tx.className = 'lt';
  tx.style.left = (lineLeft + 74) + 'px';
  tx.style.top = (cy - 12) + 'px';
  tx.textContent = ds.label;
  legendBox.appendChild(tx);
});
</script></body></html>
